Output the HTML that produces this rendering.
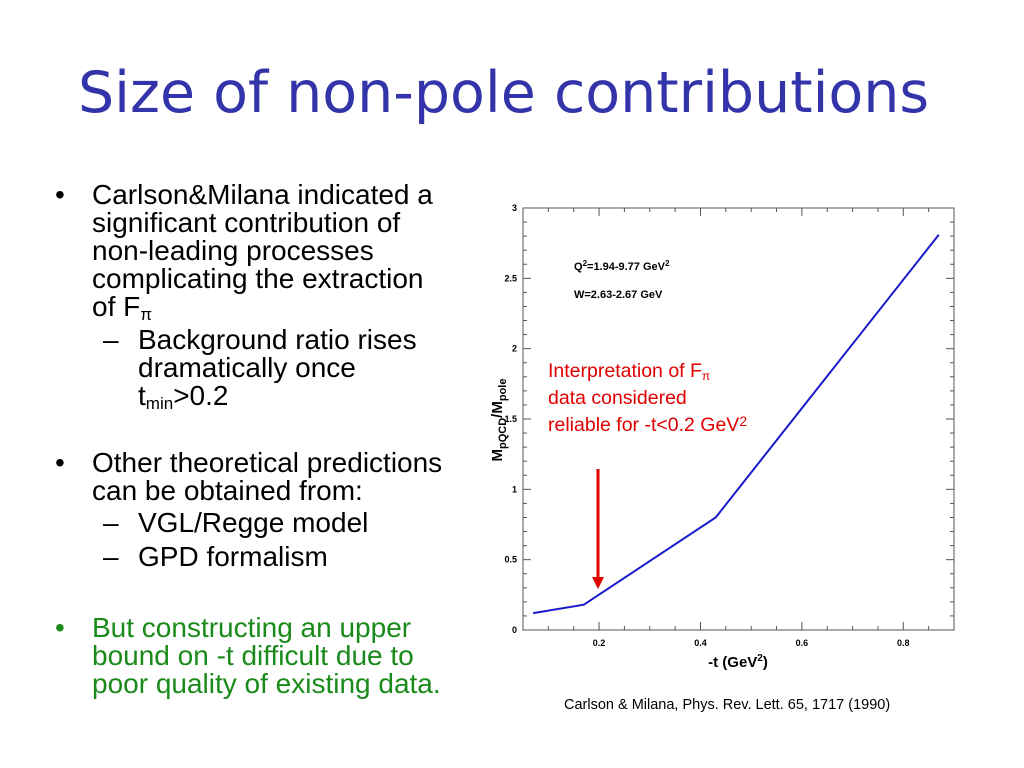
<!DOCTYPE html>
<html><head><meta charset="utf-8"><style>
body{margin:0;width:1024px;height:768px;background:#fff;position:relative;overflow:hidden;font-family:"Liberation Sans",sans-serif}
.t{position:absolute;font-size:28px;line-height:28px;color:#000;white-space:nowrap}
.g{color:#1a8a1a}
sub{font-size:17px;vertical-align:-4px;line-height:0}
#title{position:absolute;left:78px;top:60px;font-size:57px;color:#3333aa;white-space:nowrap;font-family:"DejaVu Sans","Liberation Sans",sans-serif;font-weight:normal}
</style></head><body>
<div id="title">Size of non-pole contributions</div>
<div>
<div class="t" style="left:55px;top:181px">•</div>
<div class="t" style="left:92px;top:181px">Carlson&amp;Milana indicated a<br>significant contribution of<br>non-leading processes<br>complicating the extraction<br>of F<sub>π</sub></div>
<div class="t" style="left:103px;top:326px">–</div>
<div class="t" style="left:138px;top:326px">Background ratio rises<br>dramatically once<br>t<sub>min</sub>&gt;0.2</div>
<div class="t" style="left:55px;top:449px">•</div>
<div class="t" style="left:92px;top:449px">Other theoretical predictions<br>can be obtained from:</div>
<div class="t" style="left:103px;top:509px">–</div>
<div class="t" style="left:138px;top:509px">VGL/Regge model</div>
<div class="t" style="left:103px;top:543px">–</div>
<div class="t" style="left:138px;top:543px">GPD formalism</div>
<div class="t g" style="left:55px;top:614px">•</div>
<div class="t g" style="left:92px;top:614px">But constructing an upper<br>bound on -t difficult due to<br>poor quality of existing data.</div>
</div>
<div class="t" style="left:564px;top:697px;font-size:14.5px;line-height:16px">Carlson &amp; Milana, Phys. Rev. Lett. 65, 1717 (1990)</div>
<svg id="chart" width="1024" height="768" style="position:absolute;left:0;top:0"></svg>
<script>
const xs=[0.07,0.17,0.30,0.43,0.87];
const ys=[0.12,0.18,0.49,0.80,2.81];
const xTicks=[0.2,0.4,0.6,0.8];
const yTicks=[0,0.5,1,1.5,2,2.5,3];
const yTickLabels=["0","0.5","1","1.5","2","2.5","3"];
const X0=523,X1=954,Y0=630,Y1=208,xmin=0.05,xmax=0.9,ymin=0,ymax=3;
const sx=v=>X0+(v-xmin)/(xmax-xmin)*(X1-X0);
const sy=v=>Y0-(v-ymin)/(ymax-ymin)*(Y0-Y1);
const svg=document.getElementById('chart');const NS='http://www.w3.org/2000/svg';
function mk(t,a,p){const e=document.createElementNS(NS,t);for(const k in a)e.setAttribute(k,a[k]);(p||svg).appendChild(e);return e;}
const frame=mk('rect',{x:X0,y:Y1,width:X1-X0,height:Y0-Y1,fill:'none',stroke:'#555','stroke-width':1});


for(let v=0.05;v<=0.9001;v+=0.05){const major=Math.abs(v/0.2-Math.round(v/0.2))<1e-6;const L=major?8:4;
 const a=mk('line',{x1:sx(v),x2:sx(v),y1:Y0,y2:Y0-L,stroke:'#555'});
 const b=mk('line',{x1:sx(v),x2:sx(v),y1:Y1,y2:Y1+L,stroke:'#555'});}
for(let v=0;v<=3.0001;v+=0.1){const major=Math.abs(v*2-Math.round(v*2))<1e-6;const L=major?8:4;
 const a=mk('line',{x1:X0,x2:X0+L,y1:sy(v),y2:sy(v),stroke:'#555'});
 const b=mk('line',{x1:X1,x2:X1-L,y1:sy(v),y2:sy(v),stroke:'#555'});}
xTicks.forEach(v=>{const t=mk('text',{x:sx(v),y:Y0+16,'font-size':9,'font-weight':'bold','text-anchor':'middle','font-family':'Liberation Sans'});t.textContent=v.toFixed(1);
 });
yTicks.forEach((v,i)=>{const t=mk('text',{x:X0-6,y:sy(v)+3,'font-size':9,'font-weight':'bold','text-anchor':'end','font-family':'Liberation Sans'});t.textContent=yTickLabels[i];
 });
const line=mk('polyline',{points:xs.map((x,i)=>sx(x)+','+sy(ys[i])).join(' '),fill:'none',stroke:'#1a1acc','stroke-width':2});


const xt=mk('text',{x:738,y:667,'font-size':15,'font-weight':'bold','text-anchor':'middle','font-family':'Liberation Sans'});
xt.innerHTML='-t (GeV<tspan dy="-6" font-size="10">2</tspan><tspan dy="6">)</tspan>';


const yt=mk('text',{transform:'translate(502,420) rotate(-90)','font-size':15,'font-weight':'bold','text-anchor':'middle','font-family':'Liberation Sans'});
yt.innerHTML='M<tspan dy="4" font-size="11">pQCD</tspan><tspan dy="-4">/M</tspan><tspan dy="4" font-size="11">pole</tspan>';


const a1=mk('text',{x:574,y:270,'font-size':11,'font-weight':'bold','font-family':'Liberation Sans'});
a1.innerHTML='Q<tspan dy="-4" font-size="8">2</tspan><tspan dy="4">=1.94-9.77 GeV</tspan><tspan dy="-4" font-size="8">2</tspan>';


const a2=mk('text',{x:574,y:298,'font-size':11,'font-weight':'bold','font-family':'Liberation Sans'});a2.textContent='W=2.63-2.67 GeV';


const r=mk('text',{'font-size':19.5,fill:'#e00000','font-family':'Liberation Sans'});
r.innerHTML='<tspan x="548" y="377">Interpretation of F</tspan><tspan font-size="12" dy="3">π</tspan><tspan x="548" y="404">data considered</tspan><tspan x="548" y="431">reliable for -t&lt;0.2 GeV</tspan><tspan font-size="14" dy="-5">2</tspan>';


const ar=mk('line',{x1:598,x2:598,y1:469,y2:578,stroke:'#e00000','stroke-width':3});


const ah=mk('polygon',{points:'592,577 604,577 598,589',fill:'#e00000'});


</script>
</body></html>
